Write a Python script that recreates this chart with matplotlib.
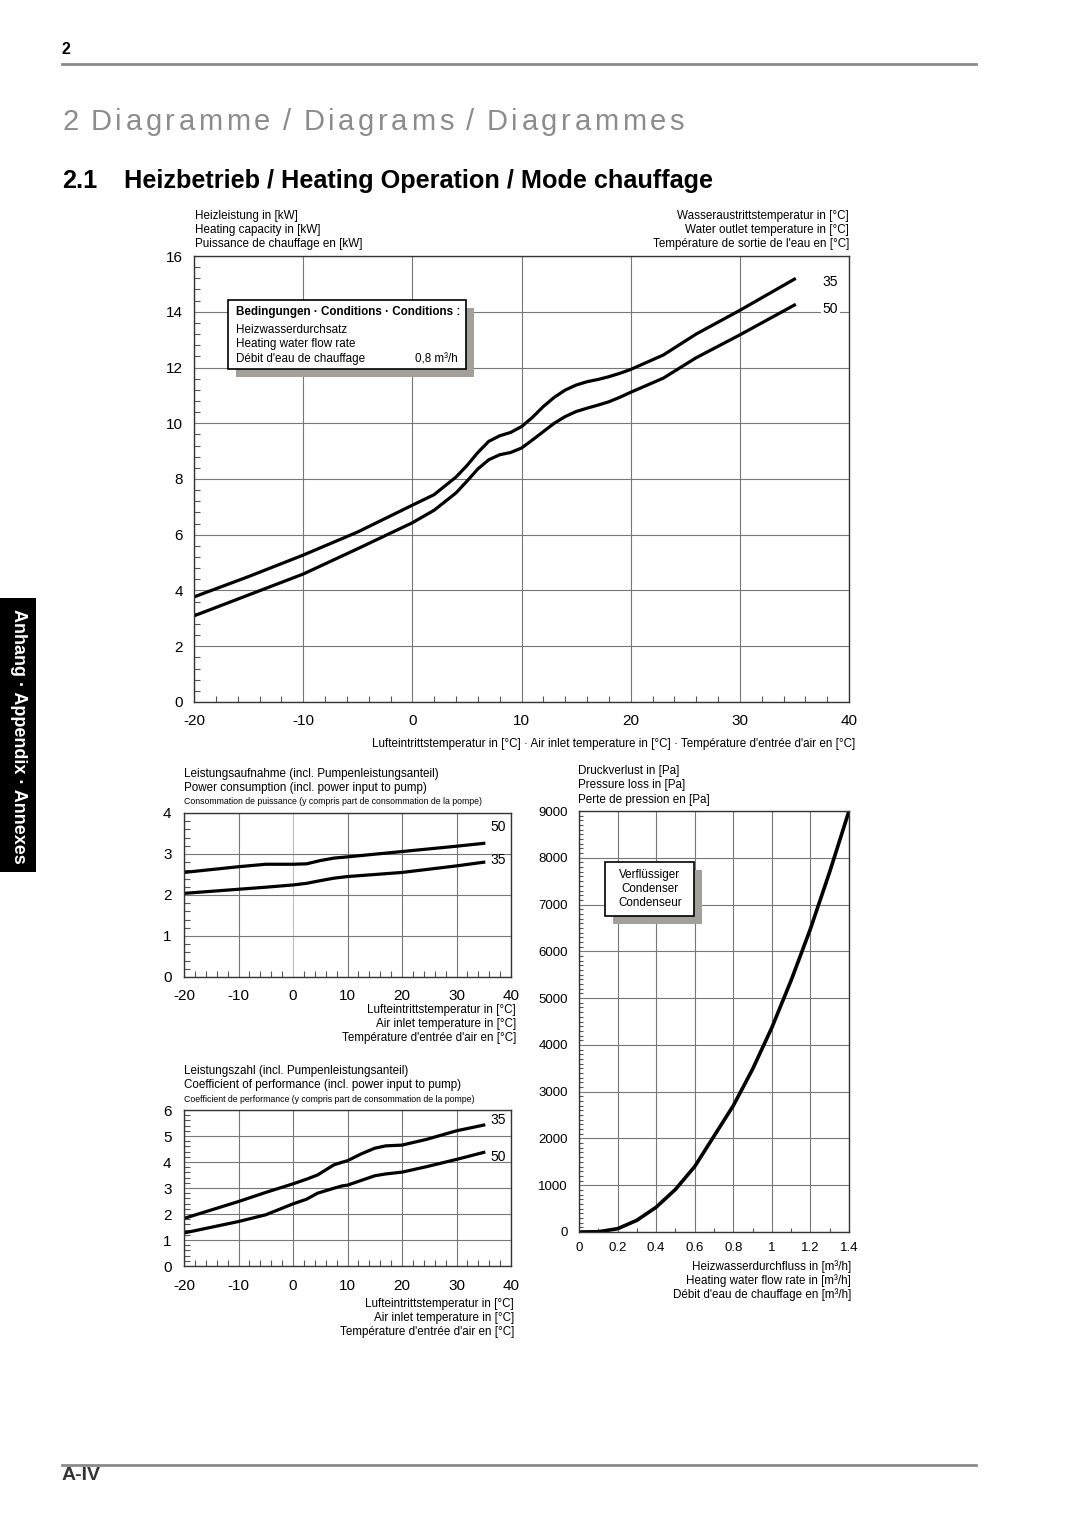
import numpy as np
import matplotlib
matplotlib.use('Agg')
import matplotlib.pyplot as plt
from matplotlib.patches import Rectangle
from matplotlib.ticker import MultipleLocator

plt.rcParams['font.family'] = ['Liberation Sans', 'DejaVu Sans']
plt.rcParams['axes.unicode_minus'] = False

# Heizleistung (kW) ueber Lufteintrittstemperatur
t_heat = [-20, -15, -10, -5, 0, 2, 4, 5, 6, 7, 8, 9, 10, 11, 12, 13, 14, 15, 16,
          17, 18, 19, 20, 23, 26, 30, 35]
heat_35 = [3.77, 4.5, 5.27, 6.1, 7.06, 7.44, 8.07, 8.48, 8.95, 9.35, 9.55, 9.67,
           9.88, 10.21, 10.6, 10.93, 11.19, 11.37, 11.49, 11.57, 11.67, 11.79,
           11.93, 12.45, 13.2, 14.05, 15.17]
heat_50 = [3.09, 3.84, 4.59, 5.5, 6.43, 6.88, 7.5, 7.92, 8.36, 8.69, 8.87, 8.95,
           9.11, 9.4, 9.7, 10.0, 10.24, 10.42, 10.54, 10.65, 10.77, 10.93,
           11.11, 11.62, 12.35, 13.17, 14.24]

# Leistungsaufnahme (kW)
t_pow = [-20, -10, -5, 0, 2.5, 5, 7.5, 10, 20, 30, 35]
pow_50 = [2.55, 2.69, 2.75, 2.75, 2.76, 2.84, 2.90, 2.93, 3.06, 3.19, 3.26]
pow_35 = [2.04, 2.14, 2.19, 2.245, 2.285, 2.35, 2.41, 2.45, 2.55, 2.71, 2.80]

# Leistungszahl (COP)
t_cop = [-20, -10, -5, 0, 2.5, 4.5, 7.5, 9, 10, 12.5, 15, 17, 20, 24.5, 30, 35]
cop_35 = [1.83, 2.48, 2.83, 3.16, 3.34, 3.50, 3.89, 3.99, 4.05, 4.31, 4.53,
          4.62, 4.65, 4.87, 5.20, 5.42]
cop_50 = [1.27, 1.71, 1.97, 2.39, 2.57, 2.80, 2.99, 3.08, 3.11, 3.29, 3.47,
          3.54, 3.61, 3.82, 4.10, 4.37]

# Druckverlust Verfluessiger
flow = [0, 0.1, 0.2, 0.3, 0.4, 0.5, 0.6, 0.7, 0.8, 0.9, 1.0, 1.1, 1.2, 1.3, 1.4]
dp = [0, 5, 70, 250, 530, 910, 1400, 2050, 2700, 3480, 4370, 5380, 6480, 7700, 9000]
flow_ticks = [0, 0.2, 0.4, 0.6, 0.8, 1.0, 1.2, 1.4]
flow_labels = ['0', '0.2', '0.4', '0.6', '0.8', '1', '1.2', '1.4']

W, H = 1080, 1527
fig = plt.figure(figsize=(W / 100, H / 100), dpi=100)
FS = 8.4


def box(l, t, r, b):
    return [l / W, 1 - b / H, (r - l) / W, (b - t) / H]


def txt(x, y, s, **kw):
    kw.setdefault('va', 'center')
    kw.setdefault('fontsize', FS)
    return fig.text(x / W, 1 - y / H, s, **kw)


def shadow_box(l, t, r, b, off=8):
    fig.patches.append(Rectangle(((l + off) / W, 1 - (b + off) / H),
                                 (r - l) / W, (b - t) / H, transform=fig.transFigure,
                                 facecolor='#a39f9b', edgecolor='none', zorder=5))
    fig.patches.append(Rectangle((l / W, 1 - b / H), (r - l) / W, (b - t) / H,
                                 transform=fig.transFigure, facecolor='white',
                                 edgecolor='black', lw=1.2, zorder=6))


def style(ax, xmin, ymin, fs=11, xpad=9, ypad=7):
    ax.xaxis.set_minor_locator(MultipleLocator(xmin))
    ax.yaxis.set_minor_locator(MultipleLocator(ymin))
    ax.tick_params(which='both', direction='in', top=False, right=False, labelsize=fs)
    ax.tick_params(which='major', length=0)
    ax.tick_params(axis='x', which='major', pad=xpad)
    ax.tick_params(axis='y', which='major', pad=ypad)
    ax.tick_params(which='minor', length=4, width=0.8, color='#555555')
    ax.grid(True, which='major', color='#777777', lw=0.8)
    ax.set_axisbelow(True)
    for s in ax.spines.values():
        s.set_linewidth(1.0)
        s.set_color('#333333')


# --- Kopfzeile ---
txt(62, 50, '2', fontsize=11.5, fontweight='bold')
fig.add_artist(plt.Line2D([62 / W, 976 / W], [1 - 64 / H] * 2, color='#8a8a8a', lw=2))

# gesperrter Titel, Zeichen fuer Zeichen
fig.canvas.draw()
rend = fig.canvas.get_renderer()
x = 62
for ch in '2 Diagramme / Diagrams / Diagrammes':
    if ch == ' ':
        x += 9
        continue
    t = txt(x, 122, ch, fontsize=21, color='#8c8c8c')
    w = t.get_window_extent(rend).width
    x += w + 3.6

txt(62, 181, '2.1', fontsize=18.2, fontweight='bold')
txt(124, 181, 'Heizbetrieb / Heating Operation / Mode chauffage', fontsize=18.2, fontweight='bold')

# --- Seitenreiter ---
fig.patches.append(Rectangle((0, 1 - 872 / H), 36 / W, 274 / H, transform=fig.transFigure,
                             facecolor='black', edgecolor='none'))
txt(18, 736, 'Anhang · Appendix · Annexes', fontsize=13, fontweight='bold', color='white',
    rotation=-90, ha='center')

# --- Hauptdiagramm Heizleistung ---
ax = fig.add_axes(box(194, 256, 849, 702))
ax.plot(t_heat, heat_35, color='black', lw=2.3, solid_joinstyle='round')
ax.plot(t_heat, heat_50, color='black', lw=2.3, solid_joinstyle='round')
ax.set_xlim(-20, 40)
ax.set_ylim(0, 16)
ax.set_xticks(range(-20, 41, 10))
ax.set_yticks(range(0, 17, 2))
style(ax, 2, 0.4, fs=11, xpad=9, ypad=8)
ax.text(38.3, 15.05, '35', fontsize=10, ha='center', va='center')
ax.text(38.3, 14.1, '50', fontsize=10, ha='center', va='center',
        bbox=dict(facecolor='white', edgecolor='none', pad=1))

for i, s in enumerate(['Heizleistung in [kW]', 'Heating capacity in [kW]',
                       'Puissance de chauffage en [kW]']):
    txt(195, 216 + 14 * i, s)
for i, s in enumerate(['Wasseraustrittstemperatur in [°C]', 'Water outlet temperature in [°C]',
                       "Température de sortie de l'eau en [°C]"]):
    txt(849, 216 + 14 * i, s, ha='right')
txt(855, 744, "Lufteintrittstemperatur in [°C] · Air inlet temperature in [°C] · "
    "Température d'entrée d'air en [°C]", ha='right')

shadow_box(228, 300, 466, 369)
txt(236, 312, 'Bedingungen · Conditions · Conditions :', fontweight='bold', zorder=7)
txt(236, 330, 'Heizwasserdurchsatz', zorder=7)
txt(236, 344, 'Heating water flow rate', zorder=7)
txt(236, 359, "Débit d'eau de chauffage", zorder=7)
txt(458, 359, '0,8 m³/h', ha='right', zorder=7)

# --- Leistungsaufnahme ---
ax2 = fig.add_axes(box(184, 813, 511, 977))
ax2.plot(t_pow, pow_50, color='black', lw=2.3, solid_joinstyle='round')
ax2.plot(t_pow, pow_35, color='black', lw=2.3, solid_joinstyle='round')
ax2.set_xlim(-20, 40)
ax2.set_ylim(0, 4)
ax2.set_xticks(range(-20, 41, 10))
ax2.set_yticks(range(0, 5))
style(ax2, 2, 0.2, fs=11, xpad=9, ypad=9)
ax2.get_xgridlines()[2].set_color('#9fd49f')
ax2.text(37.6, 3.65, '50', fontsize=10, ha='center', va='center')
ax2.text(37.6, 2.85, '35', fontsize=10, ha='center', va='center')
txt(184, 774, 'Leistungsaufnahme (incl. Pumpenleistungsanteil)')
txt(184, 788, 'Power consumption (incl. power input to pump)')
txt(184, 802, 'Consommation de puissance (y compris part de consommation de la pompe)', fontsize=6.35)
for i, s in enumerate(['Lufteintrittstemperatur in [°C]', 'Air inlet temperature in [°C]',
                       "Température d'entrée d'air en [°C]"]):
    txt(516, 1010 + 14 * i, s, ha='right')

# --- Leistungszahl ---
ax3 = fig.add_axes(box(184, 1110, 511, 1266))
ax3.plot(t_cop, cop_35, color='black', lw=2.3, solid_joinstyle='round')
ax3.plot(t_cop, cop_50, color='black', lw=2.3, solid_joinstyle='round')
ax3.set_xlim(-20, 40)
ax3.set_ylim(0, 6)
ax3.set_xticks(range(-20, 41, 10))
ax3.set_yticks(range(0, 7))
style(ax3, 2, 0.2, fs=11, xpad=9, ypad=9)
ax3.text(37.6, 5.62, '35', fontsize=10, ha='center', va='center')
ax3.text(37.6, 4.19, '50', fontsize=10, ha='center', va='center')
txt(184, 1071, 'Leistungszahl (incl. Pumpenleistungsanteil)')
txt(184, 1085, 'Coefficient of performance (incl. power input to pump)')
txt(184, 1100, 'Coefficient de performance (y compris part de consommation de la pompe)', fontsize=6.35)
for i, s in enumerate(['Lufteintrittstemperatur in [°C]', 'Air inlet temperature in [°C]',
                       "Température d'entrée d'air en [°C]"]):
    txt(514, 1304 + 14 * i, s, ha='right')

# --- Druckverlust ---
ax4 = fig.add_axes(box(579, 811, 849, 1232))
ax4.plot(flow, dp, color='black', lw=2.6, solid_joinstyle='round')
ax4.set_xlim(0, 1.4)
ax4.set_ylim(0, 9000)
ax4.set_xticks(flow_ticks)
ax4.set_xticklabels(flow_labels)
ax4.set_yticks(range(0, 9001, 1000))
style(ax4, 0.1, 100, fs=9.5, xpad=7, ypad=8)
ax4.tick_params(which='minor', length=3)
txt(578, 771, 'Druckverlust in [Pa]')
txt(578, 785, 'Pressure loss in [Pa]')
txt(578, 800, 'Perte de pression en [Pa]')
for i, s in enumerate(['Heizwasserdurchfluss in [m³/h]', 'Heating water flow rate in [m³/h]',
                       "Débit d'eau de chauffage en [m³/h]"]):
    txt(851, 1267 + 14 * i, s, ha='right')
shadow_box(605, 862, 694, 916)
for i, s in enumerate(['Verflüssiger', 'Condenser', 'Condenseur']):
    txt(650, 875 + 14 * i, s, ha='center', zorder=7)

# --- Fusszeile ---
fig.add_artist(plt.Line2D([62 / W, 976 / W], [1 - 1465 / H] * 2, color='#8a8a8a', lw=2))
txt(62, 1475, 'A-IV', fontsize=14, fontweight='bold', color='#333333')

fig.savefig('out.png', dpi=100)
